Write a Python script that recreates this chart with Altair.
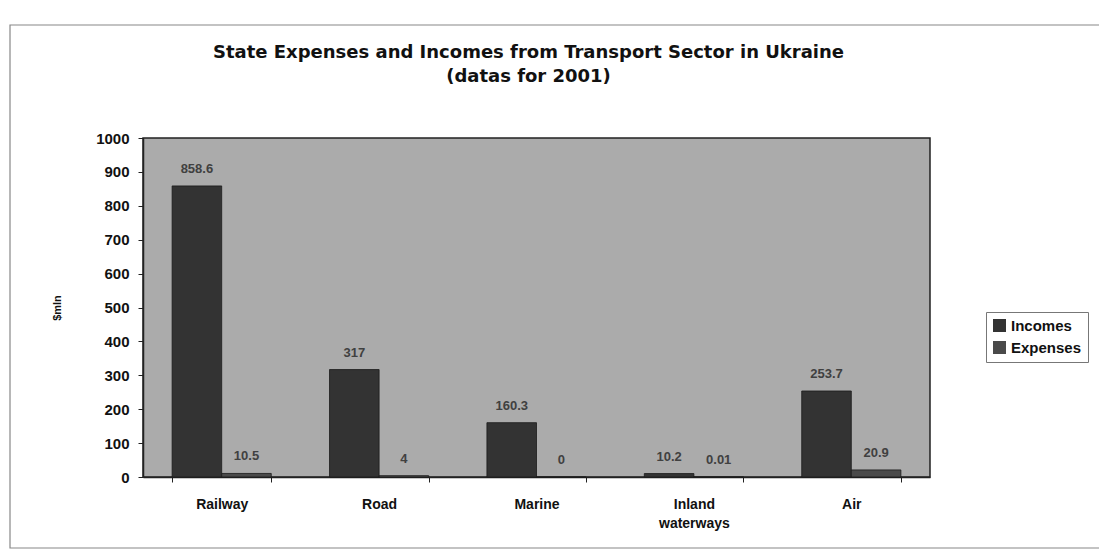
import altair as alt
import pandas as pd

categories = ["Railway", "Road", "Marine", "Inland waterways", "Air"]
incomes = [858.6, 317, 160.3, 10.2, 253.7]
expenses = [10.5, 4, 0, 0.01, 20.9]
series = ["Incomes", "Expenses"]
y_ticks = [0, 100, 200, 300, 400, 500, 600, 700, 800, 900, 1000]

rows = []
for c, i, e in zip(categories, incomes, expenses):
    rows.append({"cat": c, "series": "Incomes", "value": i, "label": f"{i:g}"})
    rows.append({"cat": c, "series": "Expenses", "value": e, "label": f"{e:g}"})
df = pd.DataFrame(rows)

FONT = "Liberation Sans"

x_enc = alt.X(
    "cat:N",
    sort=categories,
    scale=alt.Scale(paddingInner=0.37, paddingOuter=0.185),
    axis=alt.Axis(
        title=None,
        labelAngle=0,
        labelFont=FONT,
        labelFontWeight="bold",
        labelFontSize=14,
        labelColor="#111",
        labelPadding=15,
        labelLineHeight=19,
        labelBaseline="top",
        labelExpr="datum.value == 'Inland waterways' ? ['Inland', 'waterways'] : datum.value",
        tickBand="extent",
        tickSize=5,
        tickColor="#222",
        domainColor="#222",
        domainWidth=1.5,
    ),
)
xoff = alt.XOffset("series:N", sort=series, scale=alt.Scale(paddingInner=0, paddingOuter=0))
y_enc = alt.Y(
    "value:Q",
    scale=alt.Scale(domain=[0, 1000], nice=False),
    axis=alt.Axis(
        title="$mln",
        titleFont=FONT,
        titleFontSize=11,
        titleFontWeight="bold",
        titleColor="#111",
        titlePadding=33,
        values=y_ticks,
        format="d",
        labelOverlap=False,
        labelFont=FONT,
        labelFontWeight="bold",
        labelFontSize=15,
        labelColor="#111",
        labelPadding=9,
        tickSize=5,
        tickColor="#222",
        domainColor="#222",
        domainWidth=1.5,
        grid=False,
    ),
)

bars = alt.Chart(df).mark_bar(stroke="#1a1a1a", strokeWidth=0.8).encode(
    x=x_enc,
    xOffset=xoff,
    y=y_enc,
    color=alt.Color(
        "series:N",
        sort=series,
        scale=alt.Scale(domain=series, range=["#333333", "#4a4a4a"]),
        legend=alt.Legend(
            title=None,
            orient="none",
            legendX=843,
            legendY=174,
            labelFont=FONT,
            labelFontWeight="bold",
            labelFontSize=15,
            labelColor="#111",
            symbolType="square",
            symbolSize=170,
            symbolStrokeWidth=0,
            strokeColor="#777",
            padding=6,
            rowPadding=6,
            fillColor="white",
        ),
    ),
)

texts = alt.Chart(df).mark_text(
    dy=-10, font=FONT, fontSize=13, fontWeight="bold", color="#404040", baseline="bottom"
).encode(
    x=x_enc,
    xOffset=xoff,
    y=y_enc,
    text="label:N",
)

frame = alt.Chart(pd.DataFrame({"a": [0]})).mark_rect(
    fillOpacity=0, stroke="#888", strokeWidth=1.2
).encode(
    x=alt.value(-133), x2=alt.value(958), y=alt.value(-113), y2=alt.value(410)
)

chart = alt.layer(frame, bars, texts).properties(
    width=787,
    height=339,
    padding={"left": 135, "top": 130, "right": 169, "bottom": 75},
    autosize=alt.AutoSizeParams(type="none"),
    title=alt.TitleParams(
        text=["State Expenses and Incomes from Transport Sector in Ukraine", "(datas for 2001)"],
        font="DejaVu Sans",
        fontSize=18,
        fontWeight="bold",
        color="#111",
        lineHeight=24,
        offset=-62,
        anchor="middle",
        frame="group",
        dx=-8,
    ),
).configure(
    background="white",
    view=alt.ViewConfig(fill="#ababab", stroke="#222", strokeWidth=1.5),
)

chart.save("out.html", embed_options={"renderer": "svg", "actions": False})
